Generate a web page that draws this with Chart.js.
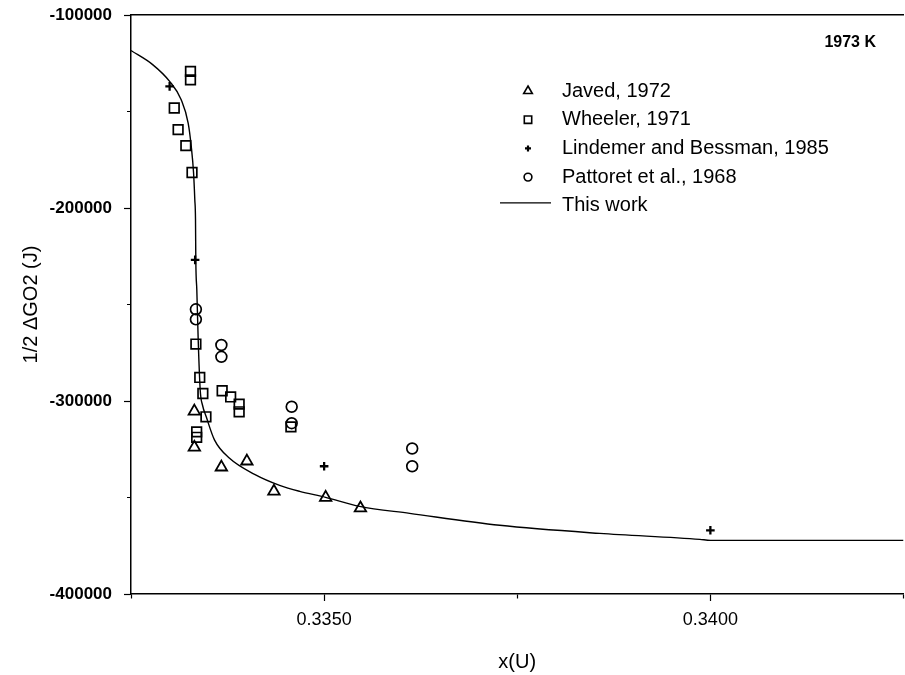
<!DOCTYPE html>
<html>
<head>
<meta charset="utf-8">
<title>1/2 ΔGO2 vs x(U), 1973 K</title>
<style>
  html, body { margin: 0; padding: 0; background: #ffffff; overflow: hidden; }
  #wrap { width: 912px; height: 675px; }
</style>
<script src="https://cdn.jsdelivr.net/npm/chart.js@4/dist/chart.umd.min.js"></script>
</head>
<body>
<div id="wrap"><canvas id="c" width="912" height="675"></canvas></div>
<script>
// ---- data ----
const seriesLabels = ['Javed, 1972', 'Wheeler, 1971', 'Lindemer and Bessman, 1985', 'Pattoret et al., 1968', 'This work'];
const tempLabel = '1973 K';
const xTitle = 'x(U)';
const yTitle = '1/2 \u0394GO2 (J)';

const javedX = [0.33332, 0.33332, 0.33367, 0.33400, 0.33435, 0.33502, 0.33547];
const javedY = [-305300, -324000, -334300, -331200, -346800, -350000, -355500];

const wheelerX = [0.33327, 0.33327, 0.33306, 0.33311, 0.33321, 0.33329, 0.33334, 0.33339, 0.33343,
                  0.33368, 0.33379, 0.33390, 0.33390, 0.33347, 0.33335, 0.33335, 0.33457];
const wheelerY = [-129200, -133600, -148200, -159400, -167700, -181600, -270500, -287800, -296100,
                  -294700, -297900, -301600, -305600, -308200, -316000, -318800, -313400];

const lindemerX = [0.33300, 0.33333, 0.33500, 0.34000];
const lindemerY = [-137000, -226900, -333800, -367000];

const pattoretX = [0.33334, 0.33334, 0.33367, 0.33367, 0.33458, 0.33458, 0.33614, 0.33614];
const pattoretY = [-252500, -257700, -271000, -277100, -303000, -311500, -324600, -333800];

// model curve ("This work")
const curveX = [0.332500, 0.332780, 0.333000, 0.333150, 0.333240, 0.333280, 0.333310, 0.333326,
                0.333335, 0.333339, 0.333352, 0.333370, 0.333396, 0.333426, 0.333474, 0.333582,
                0.333776, 0.334100, 0.334424, 0.334683, 0.335019, 0.335459, 0.336107, 0.337273,
                0.338568, 0.339864, 0.340000, 0.342500];
const curveY = [-118400, -125700, -134400, -143900, -156000, -168100, -181900, -195800,
                -206100, -226900, -242500, -268400, -294400, -302200, -308200, -320300,
                -329700, -338000, -343700, -346800, -349900, -354600, -358200, -364400,
                -368600, -371700, -372200, -372200];

// axis ranges and ticks
const xMin = 0.3325, xMax = 0.3425, xStep = 0.0025;
const yMin = -400000, yMax = -100000, yStep = 50000;

const pts = (xs, ys) => xs.map((x, i) => ({ x: x, y: ys[i] }));

const FONT = '"Liberation Sans", Arial, Helvetica, sans-serif';
Chart.defaults.font.family = FONT;
Chart.defaults.color = '#000';

const isMajorX = v => Math.round(v * 10000) % 50 === 0;
const isMajorY = v => Math.round(v) % 100000 === 0;

// hollow marker glyphs for the key
function glyph(ctx, style, x, y, r) {
  ctx.beginPath();
  if (style === 'triangle') {
    ctx.moveTo(x, y - r);
    ctx.lineTo(x + r * 0.866, y + r * 0.5);
    ctx.lineTo(x - r * 0.866, y + r * 0.5);
    ctx.closePath();
  } else if (style === 'rect') {
    ctx.rect(x - r, y - r, 2 * r, 2 * r);
  } else if (style === 'cross') {
    ctx.moveTo(x - r, y); ctx.lineTo(x + r, y);
    ctx.moveTo(x, y - r); ctx.lineTo(x, y + r);
  } else if (style === 'circle') {
    ctx.arc(x, y, r, 0, Math.PI * 2);
  }
  ctx.stroke();
}

// key box inside the plot, plus the temperature note
const keyPlugin = {
  id: 'seriesKey',
  afterDraw(chart) {
    const ctx = chart.ctx;
    ctx.save();
    ctx.strokeStyle = '#000';
    ctx.fillStyle = '#000';
    ctx.font = 'bold 16px ' + FONT;
    ctx.textAlign = 'right';
    ctx.textBaseline = 'middle';
    ctx.fillText(tempLabel, 876, 43);

    const symX = 528, textX = 562, y0 = 91, dy = 28.7;
    const sizes = { triangle: 5, rect: 3.7, cross: 3, circle: 3.9 };
    ctx.font = '20px ' + FONT;
    ctx.textAlign = 'left';
    chart.data.datasets.forEach((ds, i) => {
      const y = y0 + i * dy;
      if (ds.showLine && !ds.pointRadius) {
        ctx.lineWidth = 1.2;
        ctx.beginPath();
        ctx.moveTo(500, y - 3); ctx.lineTo(551, y - 3);
        ctx.stroke();
      } else {
        ctx.lineWidth = ds.pointStyle === 'cross' ? 2.2 : 1.6;
        glyph(ctx, ds.pointStyle, symX, y, sizes[ds.pointStyle]);
      }
      ctx.fillText(ds.label, textX, y);
    });
    ctx.restore();
  }
};

const hollow = 'rgba(0,0,0,0)';

new Chart(document.getElementById('c'), {
  type: 'scatter',
  data: {
    datasets: [
      { label: seriesLabels[0], data: pts(javedX, javedY), pointStyle: 'triangle', pointRadius: 6.6,
        borderColor: '#000', backgroundColor: hollow, pointBorderWidth: 1.8, showLine: false },
      { label: seriesLabels[1], data: pts(wheelerX, wheelerY), pointStyle: 'rect', pointRadius: 6.8,
        borderColor: '#000', backgroundColor: hollow, pointBorderWidth: 1.7, showLine: false },
      { label: seriesLabels[2], data: pts(lindemerX, lindemerY), pointStyle: 'cross', pointRadius: 4.3,
        borderColor: '#000', backgroundColor: hollow, pointBorderWidth: 2.3, showLine: false },
      { label: seriesLabels[3], data: pts(pattoretX, pattoretY), pointStyle: 'circle', pointRadius: 5.4,
        borderColor: '#000', backgroundColor: hollow, pointBorderWidth: 1.7, showLine: false },
      { label: seriesLabels[4], type: 'line', data: pts(curveX, curveY), borderColor: '#000',
        borderWidth: 1.4, pointRadius: 0, showLine: true, fill: false, cubicInterpolationMode: 'monotone' }
    ]
  },
  options: {
    responsive: false,
    animation: false,
    devicePixelRatio: 1,
    layout: { padding: { top: 15, right: 6, bottom: 0, left: 0 } },
    plugins: { legend: { display: false }, tooltip: { enabled: false } },
    scales: {
      x: {
        type: 'linear', position: 'bottom', min: xMin, max: xMax,
        afterFit: s => { s.height = 81; s.paddingLeft = 0; s.paddingRight = 0; },
        ticks: {
          stepSize: xStep, padding: 8, autoSkip: false, maxRotation: 0,
          font: { size: 18 }, color: '#000',
          callback: v => isMajorX(v) ? (Math.round(v * 10000) / 10000).toFixed(4) : ''
        },
        grid: {
          drawOnChartArea: false, drawTicks: true, tickLength: 7, tickColor: '#000', tickWidth: 1.2,
          tickBorderDash: c => (c.tick && !isMajorX(c.tick.value)) ? [4, 100] : []
        },
        border: { display: true, color: '#000', width: 1.5 },
        title: { display: true, text: xTitle, font: { size: 20 }, color: '#000', padding: { top: 0, bottom: 1 } }
      },
      xTop: {
        type: 'linear', position: 'top', min: xMin, max: xMax,
        afterFit: s => { s.height = 0; s.paddingLeft = 0; s.paddingRight = 0; },
        ticks: { display: false },
        grid: { display: false, drawTicks: false },
        border: { display: true, color: '#000', width: 1.5 }
      },
      y: {
        type: 'linear', position: 'left', min: yMin, max: yMax,
        afterFit: s => { s.width = 131; s.paddingTop = 0; s.paddingBottom = 0; },
        ticks: {
          stepSize: yStep, padding: 12, autoSkip: false,
          font: { size: 17, weight: 'bold' }, color: '#000',
          callback: v => isMajorY(v) ? String(Math.round(v)) : ''
        },
        grid: {
          drawOnChartArea: false, drawTicks: true, tickLength: 7, tickColor: '#000', tickWidth: 1.2,
          tickBorderDash: c => (c.tick && !isMajorY(c.tick.value)) ? [0, 3, 4, 100] : []
        },
        border: { display: true, color: '#000', width: 1.5 },
        title: { display: true, text: yTitle, font: { size: 20 }, color: '#000', padding: { top: 19, bottom: 0 } }
      }
    }
  },
  plugins: [keyPlugin]
});
</script>
</body>
</html>
